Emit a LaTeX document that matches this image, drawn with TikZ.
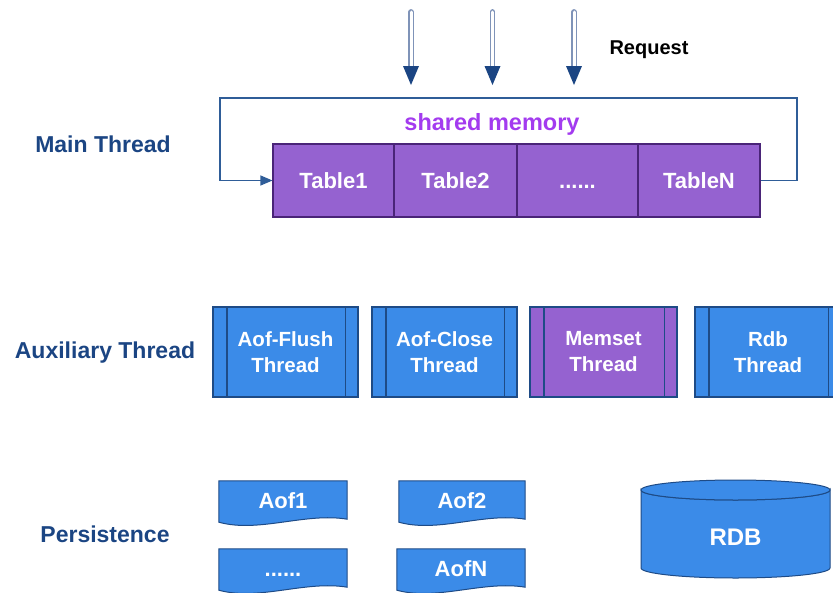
\documentclass[tikz,border=0pt]{standalone}
\usepackage{fontspec}
\setmainfont{Liberation Sans}
\usetikzlibrary{calc,arrows.meta,backgrounds}
\definecolor{labelblue}{HTML}{1B4583}
\definecolor{edgeblue}{HTML}{1E4B86}
\definecolor{fillblue}{HTML}{3B8BE8}
\definecolor{fillpurple}{HTML}{9562D0}
\definecolor{edgepurple}{HTML}{4A2478}
\definecolor{textpurple}{HTML}{A33BEF}
\definecolor{shaftcol}{HTML}{7F93B8}
\definecolor{loopcol}{HTML}{2F5D98}
\begin{document}
\begin{tikzpicture}[x=1pt,y=-1pt,
  lbl/.style={text=labelblue, font=\fontsize{23}{26}\selectfont\bfseries, inner sep=0pt},
  tablecell/.style={draw=edgepurple, fill=fillpurple, line width=1.1pt,
    minimum height=73pt, text=white, font=\fontsize{22}{24}\selectfont\bfseries,
    text height=15.8pt, text depth=0pt, inner sep=0pt},
  threadbox/.style={draw=edgeblue, fill=fillblue, line width=1.1pt,
    minimum height=90pt, align=center, text=white,
    font=\fontsize{20.5}{26}\selectfont\bfseries, inner sep=0pt},
  docnode/.style={minimum height=40pt, text=white,
    font=\fontsize{22}{24}\selectfont\bfseries, text height=15.8pt, text depth=0pt, inner sep=0pt},
  docshape/.style={draw=edgeblue, fill=fillblue, line width=1pt},
  reqshaft/.style={draw=shaftcol, line width=1.4pt, double=white, double distance=3pt, line cap=round},
]
\useasboundingbox (0,0) rectangle (833,592);

% row labels
\node[lbl] (lmain) at (103,144) {Main Thread};
\node[lbl] (laux)  at (105,353) {Auxiliary Thread};
\node[lbl] (lpers) at (105,534) {Persistence};

% incoming requests
\node[font=\fontsize{20}{22}\selectfont\bfseries, inner sep=0pt] (req) at (649,50) {Request};
\foreach \i/\x in {1/411,2/492.5,3/574} {
  \coordinate (rq\i top) at (\x,12);
  \coordinate (rq\i tip) at (\x,85);
  \draw[reqshaft] (rq\i top) -- ($(rq\i tip)+(0,-18)$);
  \fill[labelblue] ($(rq\i tip)+(-8,-19)$) -- ($(rq\i tip)+(8,-19)$) -- (rq\i tip) -- cycle;
}

% shared memory tables
\node[text=textpurple, font=\fontsize{23.5}{26}\selectfont\bfseries, inner sep=0pt] (shm) at (492,124) {shared memory};
\node[tablecell, minimum width=121pt] (t1) at (333.5,180.5) {Table1};
\node[tablecell, minimum width=123pt] (t2) at (455.5,180.5) {Table2};
\node[tablecell, minimum width=121pt] (t3) at (577.5,180.5) {......};
\node[tablecell, minimum width=122pt] (t4) at (699,180.5) {TableN};

% loop back around the tables
\coordinate (loopR) at (797,98);
\coordinate (loopL) at (220,98);
\draw[loopcol, line width=1.1pt, -{Triangle[length=12pt,width=10pt]}]
  (t4.east) -| (loopR) -- (loopL) |- (t1.west);

% auxiliary threads
\node[threadbox, minimum width=145pt] (th1) at (285.5,352) {Aof-Flush\\Thread};
\node[threadbox, minimum width=145pt] (th2) at (444.5,352) {Aof-Close\\Thread};
\node[threadbox, minimum width=147pt, fill=fillpurple] (th3) at (603.5,352) {Memset\\Thread};
\node[threadbox, minimum width=146pt] (th4) at (768,352) {Rdb\\Thread};
\foreach \b in {th1,th2,th3,th4} {
  \draw[edgeblue, line width=1.1pt] ($(\b.north west)+(14.5,0)$) -- ($(\b.south west)+(14.5,0)$);
  \draw[edgeblue, line width=1.1pt] ($(\b.north east)+(-13.5,0)$) -- ($(\b.south east)+(-13.5,0)$);
}

% persistence files
\node[docnode, minimum width=128pt] (aof1) at (283,501) {Aof1};
\node[docnode, minimum width=126pt] (aof2) at (462,501) {Aof2};
\node[docnode, minimum width=128pt] (aofd) at (283,569) {......};
\node[docnode, minimum width=128pt] (aofn) at (461,569) {AofN};
\begin{scope}[on background layer]
  \foreach \d in {aof1,aof2,aofd,aofn} {
    \path[docshape] (\d.north west) -- (\d.north east) -- ($(\d.south east)+(0,-2)$)
      .. controls ($(\d.south east)+(-42,-9)$) and ($(\d.south west)+(40,12)$) ..
      ($(\d.south west)+(0,1)$) -- cycle;
  }
\end{scope}

% RDB store
\node[text=white, font=\fontsize{24}{26}\selectfont\bfseries, inner sep=0pt] (rdb) at (735.5,537) {RDB};
\begin{scope}[on background layer]
  \path[docshape] (641,490) -- (641,568)
    arc[start angle=180, end angle=0, x radius=94.5, y radius=10]
    -- (830,490) arc[start angle=0, end angle=180, x radius=94.5, y radius=10] -- cycle;
  \draw[docshape] (735.5,490) ellipse [x radius=94.5, y radius=10];
\end{scope}
\end{tikzpicture}
\end{document}
